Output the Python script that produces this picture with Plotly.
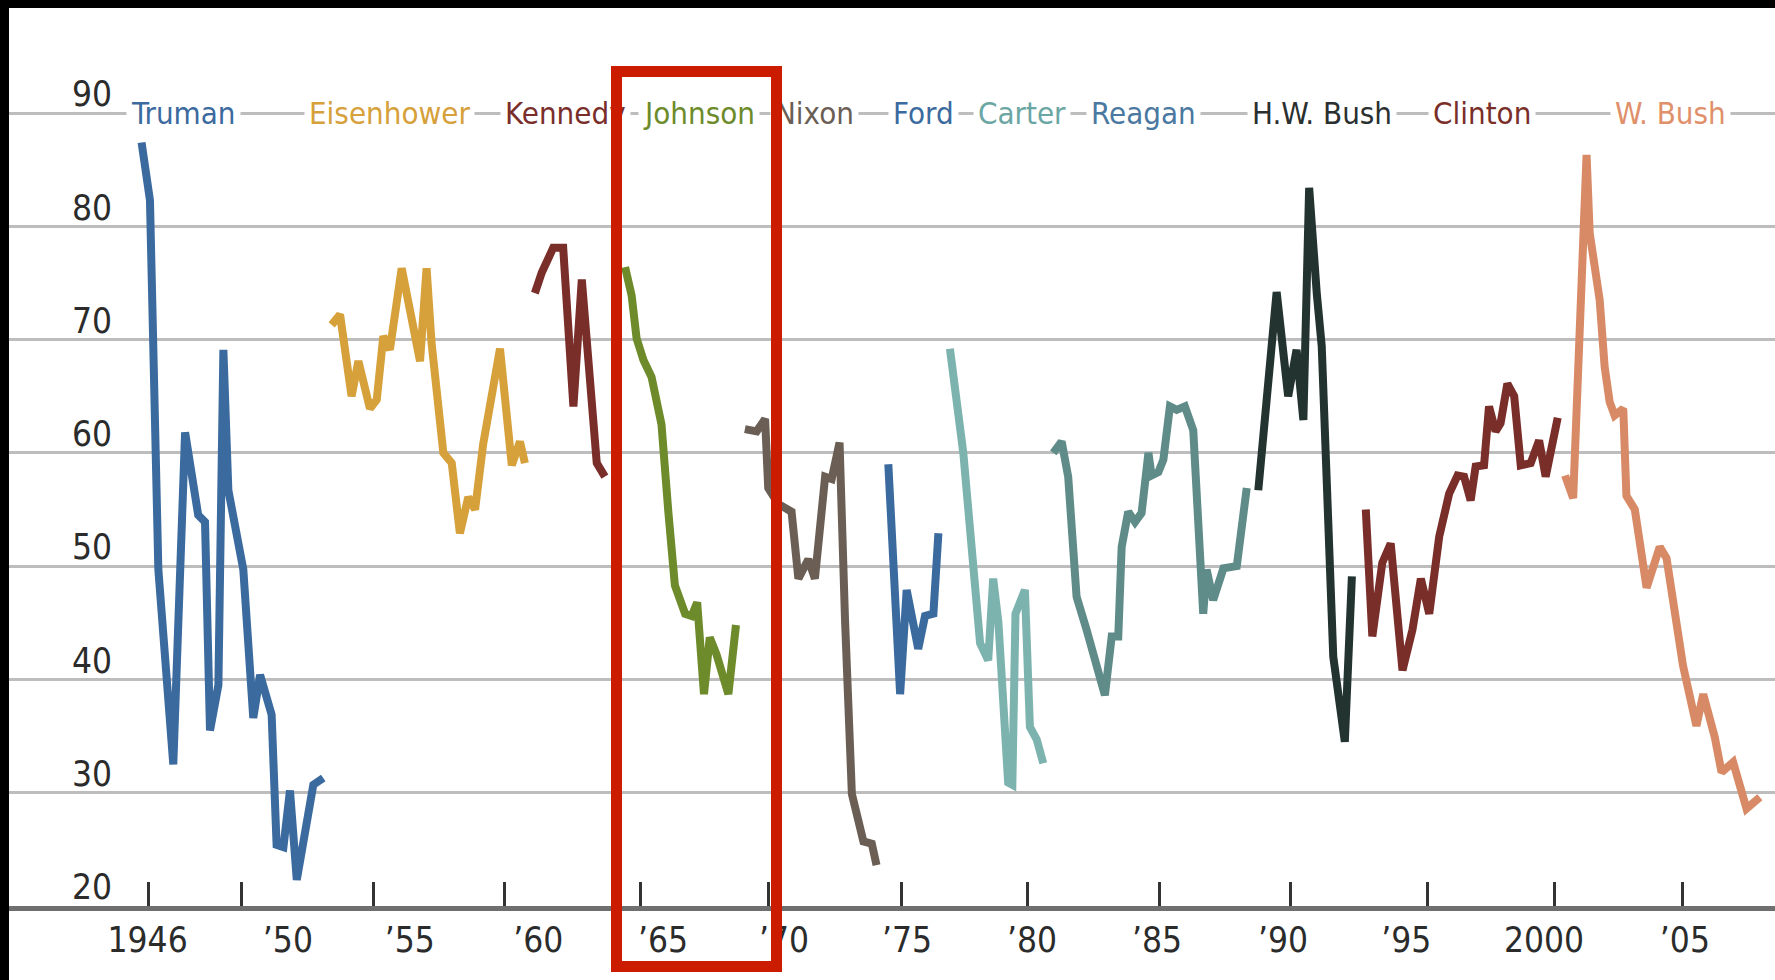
import plotly.graph_objects as go

# ---------------- data ----------------
PRESIDENTS = ["Truman", "Eisenhower", "Kennedy", "Johnson", "Nixon", "Ford",
              "Carter", "Reagan", "H.W. Bush", "Clinton", "W. Bush"]

TRUMAN_YR = [1946.17, 1946.49, 1946.81, 1947.38, 1947.83, 1948.08, 1948.33, 1948.59, 1948.78,
             1949.10, 1949.29, 1949.48, 1950.05, 1950.43, 1950.69, 1951.13, 1951.32, 1951.58,
             1951.83, 1952.09, 1952.47, 1952.72, 1953.10]
TRUMAN_VAL = [87.4, 82.3, 49.7, 32.5, 61.8, 57.6, 54.5, 53.9, 35.5, 39.5, 69.1, 56.7, 49.7,
              36.6, 40.4, 36.9, 25.4, 25.2, 30.2, 22.3, 28.0, 30.7, 31.3]

EISEN_YR = [1953.42, 1953.74, 1954.18, 1954.44, 1954.88, 1955.14, 1955.39, 1955.64, 1956.09,
            1956.79, 1957.04, 1957.23, 1957.68, 1958.00, 1958.31, 1958.63, 1958.89, 1959.20,
            1959.84, 1960.29, 1960.60, 1960.79]
EISEN_VAL = [71.3, 72.2, 65.0, 68.1, 63.9, 64.7, 70.3, 69.1, 76.3, 68.1, 76.3, 69.7, 60.0,
             59.1, 52.9, 56.1, 55.0, 60.8, 69.2, 58.9, 61.0, 59.1]

KENNEDY_YR = [1961.17, 1961.43, 1961.87, 1962.25, 1962.64, 1962.96, 1963.53, 1963.84]
KENNEDY_VAL = [74.1, 75.9, 78.1, 78.1, 64.1, 75.3, 59.1, 57.9]

JOHNSON_YR = [1964.61, 1964.86, 1965.05, 1965.31, 1965.62, 1966.00, 1966.26, 1966.51, 1966.90,
              1967.15, 1967.36, 1967.62, 1967.84, 1968.10, 1968.55, 1968.84]
JOHNSON_VAL = [76.4, 73.9, 70.1, 68.2, 66.7, 62.5, 54.8, 48.3, 45.8, 45.6, 46.8, 38.7, 43.7,
               42.2, 38.7, 44.8]

NIXON_YR = [1969.18, 1969.63, 1969.95, 1970.07, 1970.45, 1970.96, 1971.22, 1971.60, 1971.85,
            1972.24, 1972.49, 1972.79, 1973.00, 1973.26, 1973.70, 1974.02, 1974.20]
NIXON_VAL = [62.1, 61.9, 63.0, 56.9, 55.5, 54.8, 48.9, 50.6, 48.9, 57.9, 57.7, 60.9, 45.2,
             29.9, 25.7, 25.5, 23.6]

FORD_YR = [1974.65, 1975.10, 1975.35, 1975.79, 1976.05, 1976.37, 1976.56]
FORD_VAL = [59.0, 38.7, 47.9, 42.7, 45.6, 45.8, 52.9]

CARTER_YR = [1977.00, 1977.51, 1978.15, 1978.46, 1978.65, 1978.85, 1979.22, 1979.38, 1979.50,
             1979.86, 1980.05, 1980.31, 1980.56]
CARTER_VAL = [69.2, 60.0, 43.2, 41.7, 48.9, 45.0, 30.9, 30.7, 45.8, 47.9, 35.8, 34.7, 32.6]

REAGAN_YR = [1980.94, 1981.26, 1981.51, 1981.83, 1982.21, 1982.91, 1983.17, 1983.42, 1983.55,
             1983.80, 1984.06, 1984.31, 1984.57, 1984.69, 1984.95, 1985.14, 1985.39, 1985.65,
             1985.96, 1986.28, 1986.66, 1986.79, 1987.04, 1987.43, 1987.94, 1988.32]
REAGAN_VAL = [60.0, 61.0, 57.9, 47.3, 44.4, 38.6, 43.8, 43.8, 51.7, 54.8, 53.9, 54.7, 60.0,
              58.0, 58.3, 59.4, 64.1, 63.8, 64.1, 62.0, 45.8, 49.7, 47.0, 49.8, 50.0, 56.9]

HWBUSH_YR = [1988.76, 1989.46, 1989.90, 1990.22, 1990.48, 1990.70, 1990.99, 1991.18, 1991.62,
             1992.06, 1992.33]
HWBUSH_VAL = [56.7, 74.2, 65.0, 69.1, 62.9, 83.4, 74.1, 69.4, 42.0, 34.5, 49.1]

CLINTON_YR = [1992.86, 1993.11, 1993.49, 1993.81, 1994.26, 1994.64, 1994.96, 1995.28, 1995.66,
              1996.04, 1996.36, 1996.61, 1996.86, 1997.05, 1997.37, 1997.56, 1997.81, 1998.00,
              1998.26, 1998.52, 1998.77, 1999.15, 1999.47, 1999.72, 2000.18]
CLINTON_VAL = [55.0, 43.8, 50.3, 52.0, 40.8, 44.4, 48.9, 45.8, 52.6, 56.4, 58.0, 57.9, 55.8,
               58.8, 58.9, 64.1, 61.9, 62.6, 66.1, 65.0, 58.9, 59.1, 61.1, 57.9, 63.1]

WBUSH_YR = [2000.46, 2000.77, 2001.28, 2001.40, 2001.78, 2001.97, 2002.16, 2002.35, 2002.68,
            2002.80, 2003.12, 2003.57, 2004.07, 2004.33, 2004.96, 2005.47, 2005.73, 2006.17,
            2006.43, 2006.87, 2007.38, 2007.89]
WBUSH_VAL = [58.0, 56.0, 86.3, 79.4, 73.5, 67.6, 64.5, 63.3, 63.9, 56.2, 55.0, 48.1, 51.7,
             50.7, 41.2, 35.9, 38.7, 34.9, 31.8, 32.7, 28.6, 29.6]

SERIES_YR = [TRUMAN_YR, EISEN_YR, KENNEDY_YR, JOHNSON_YR, NIXON_YR, FORD_YR,
             CARTER_YR, REAGAN_YR, HWBUSH_YR, CLINTON_YR, WBUSH_YR]
SERIES_VAL = [TRUMAN_VAL, EISEN_VAL, KENNEDY_VAL, JOHNSON_VAL, NIXON_VAL, FORD_VAL,
              CARTER_VAL, REAGAN_VAL, HWBUSH_VAL, CLINTON_VAL, WBUSH_VAL]

Y_TICKS = [20, 30, 40, 50, 60, 70, 80, 90]
X_TICK_YEARS = [1946, 1950, 1955, 1960, 1965, 1970, 1975, 1980, 1985, 1990, 1995, 2000, 2005]
X_TICK_TEXT = ["1946", "\u201950", "\u201955", "\u201960", "\u201965", "\u201970", "\u201975",
               "\u201980", "\u201985", "\u201990", "\u201995", "2000", "\u201905"]

# ---------------- styling / layout (not data) ----------------
LINE_COLORS = ["#3b6a9e", "#d6a03a", "#7a2e2a", "#6d8b2a", "#6b5f55", "#3b6a9e",
               "#7db3af", "#5f8c89", "#223330", "#7a2e2a", "#d88a66"]
LABEL_COLORS = ["#3b6a9e", "#d6a03a", "#7a2e2a", "#6d8b2a", "#6b5f55", "#3b6a9e",
                "#6aa6a3", "#4a78a0", "#2a302f", "#7a2e2a", "#e0906a"]
LABEL_X = [1947.77, 1955.64, 1962.32, 1967.43, 1971.85, 1976.01, 1979.73, 1984.40,
           1991.19, 1997.31, 2004.50]
# the printed tick marks and their (slightly shifted) labels in the source
TICK_MARK_POS = [1946.45, 1950, 1955, 1960, 1965.2, 1970.08, 1975.15, 1979.95, 1985.0,
                 1990.0, 1995.2, 2000.05, 2004.95]
TICK_LABEL_POS = [1946.4, 1951.75, 1956.4, 1961.3, 1966.06, 1970.67, 1975.36, 1980.13,
                  1984.9, 1989.7, 1994.4, 1999.66, 2005.03]

FONT = "DejaVu Sans Condensed, Liberation Sans Narrow, sans-serif"
X_RANGE = [1941.114, 2008.467]
Y_RANGE = [20, 99.27]

fig = go.Figure()
for name, xs, ys, col in zip(PRESIDENTS, SERIES_YR, SERIES_VAL, LINE_COLORS):
    fig.add_trace(go.Scatter(x=xs, y=ys, mode="lines", name=name,
                             line=dict(color=col, width=8), showlegend=False,
                             hoverinfo="skip"))

# president labels sitting on the 90 line
for name, lx, col in zip(PRESIDENTS, LABEL_X, LABEL_COLORS):
    fig.add_annotation(x=lx, y=90, xref="x", yref="y", text=name, showarrow=False,
                       xanchor="center", yanchor="middle", bgcolor="white", borderpad=4,
                       font=dict(family=FONT, size=31, color=col))

# red highlight box around Johnson (drawn as an empty bordered annotation so it
# sits on top of the labels, as in the source)
fig.add_annotation(x=0.3893, y=0.4310, xref="paper", yref="paper", text=" ",
                   showarrow=False, xanchor="center", yanchor="middle",
                   width=149, height=884, borderpad=0, borderwidth=11,
                   bordercolor="#cc1c00", bgcolor="rgba(0,0,0,0)",
                   font=dict(size=2))

# black frame bands (top and left) from the source screenshot
fig.add_shape(type="rect", xref="paper", yref="paper", x0=-0.02, x1=1.02,
              y0=1.0, y1=1.05, fillcolor="black", line=dict(width=0), layer="above")
fig.add_shape(type="rect", xref="paper", yref="paper", x0=-0.02, x1=0.0,
              y0=-0.2, y1=1.05, fillcolor="black", line=dict(width=0), layer="above")

fig.update_layout(
    width=1775, height=980,
    margin=dict(l=9, r=0, t=8, b=74),
    paper_bgcolor="white", plot_bgcolor="white",
    showlegend=False,
    xaxis=dict(range=X_RANGE, tickvals=TICK_MARK_POS, showticklabels=False,
               ticks="inside", ticklen=24, tickwidth=2.5, tickcolor="#333333",
               showgrid=False, zeroline=False,
               showline=True, linecolor="#6f6f6f", linewidth=5, fixedrange=True),
    xaxis2=dict(range=X_RANGE, overlaying="x", anchor="y", side="bottom",
                tickvals=TICK_LABEL_POS, ticktext=X_TICK_TEXT, ticks="",
                ticklabelstandoff=10,
                showgrid=False, zeroline=False, showline=False,
                tickfont=dict(family=FONT, size=35, color="#2b2b2b"), fixedrange=True),
    yaxis=dict(range=Y_RANGE, tickvals=Y_TICKS, showgrid=True, gridcolor="#bdbdbd",
               gridwidth=3, zeroline=False, showline=False, ticks="",
               ticklabelposition="inside", ticklabelstandoff=60, ticklabelshift=-19,
               ticklabeloverflow="allow",
               tickfont=dict(family=FONT, size=35, color="#2b2b2b"), fixedrange=True),
)
# an invisible trace to activate xaxis2
fig.add_trace(go.Scatter(x=[X_RANGE[0]], y=[Y_RANGE[0]], xaxis="x2", mode="markers",
                         marker=dict(opacity=0), showlegend=False, hoverinfo="skip"))

fig.write_html("out.html", config={"displayModeBar": False},
               post_script="document.body.style.margin='0';")
